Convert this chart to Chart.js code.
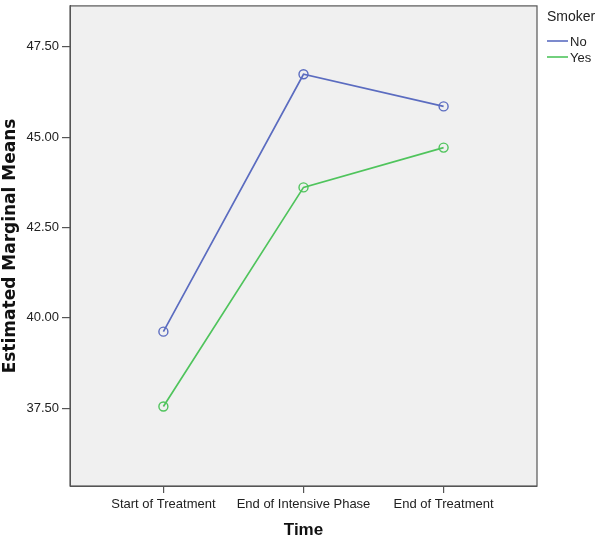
<!DOCTYPE html>
<html>
<head>
<meta charset="utf-8">
<script src="https://cdn.jsdelivr.net/npm/chart.js@4"></script>
<style>
  html, body { margin: 0; padding: 0; background: #fff; }
  #wrap { width: 600px; height: 538px; position: relative; }
</style>
</head>
<body>
<div id="wrap"><canvas id="profilePlot"></canvas></div>
<script>
const categories = ['Start of Treatment', 'End of Intensive Phase', 'End of Treatment']
const seriesNames = ['No', 'Yes']
const noValues = [39.62, 46.74, 45.85]
const yesValues = [37.55, 43.61, 44.71]
const yTicks = [37.5, 40.0, 42.5, 45.0, 47.5]

const colors = ['#5b6cc0', '#4fc45c']
const font = "'Liberation Sans', Arial, sans-serif"

const toPoints = (vals) => vals.map((v, i) => ({ x: i, y: v }))

// grey plot background + dark frame
const plotFrame = {
  id: 'plotFrame',
  beforeDraw(chart) {
    const { ctx, chartArea: a } = chart
    ctx.save()
    ctx.fillStyle = '#f0f0f0'
    ctx.fillRect(a.left, a.top, a.right - a.left, a.bottom - a.top)
    ctx.restore()
  },
  afterDraw(chart) {
    const { ctx, chartArea: a } = chart
    ctx.save()
    ctx.strokeStyle = '#555'
    ctx.lineWidth = 1.2
    ctx.strokeRect(a.left, a.top, a.right - a.left, a.bottom - a.top)
    ctx.restore()
  },
}

// SPSS style legend on the right
const sideLegend = {
  id: 'sideLegend',
  afterDraw(chart) {
    const { ctx } = chart
    ctx.save()
    ctx.fillStyle = '#222'
    ctx.textBaseline = 'middle'
    ctx.font = '14px ' + font
    ctx.fillText('Smoker', 547, 17)
    ctx.font = '13px ' + font
    chart.data.datasets.forEach((ds, i) => {
      const y = 41 + i * 16
      ctx.strokeStyle = ds.borderColor
      ctx.lineWidth = 1.6
      ctx.beginPath()
      ctx.moveTo(547, y)
      ctx.lineTo(568, y)
      ctx.stroke()
      ctx.fillText(ds.label, 570, y + 1)
    })
    ctx.restore()
  },
}

new Chart('profilePlot', {
  type: 'line',
  data: {
    datasets: [
      {
        label: seriesNames[0],
        data: toPoints(noValues),
        borderColor: colors[0],
        backgroundColor: 'rgba(0,0,0,0)',
        borderWidth: 1.7,
        pointRadius: 4.5,
        pointBorderWidth: 1.4,
        pointBackgroundColor: 'rgba(0,0,0,0)',
        tension: 0,
      },
      {
        label: seriesNames[1],
        data: toPoints(yesValues),
        borderColor: colors[1],
        backgroundColor: 'rgba(0,0,0,0)',
        borderWidth: 1.7,
        pointRadius: 4.5,
        pointBorderWidth: 1.4,
        pointBackgroundColor: 'rgba(0,0,0,0)',
        tension: 0,
      },
    ],
  },
  options: {
    responsive: true,
    maintainAspectRatio: false,
    animation: false,
    layout: { padding: { top: -3, right: 63, left: 0, bottom: 0 } },
    plugins: {
      legend: { display: false },
      tooltip: { enabled: false },
    },
    scales: {
      x: {
        type: 'linear',
        min: -2 / 3,
        max: 8 / 3,
        afterBuildTicks: (scale) => {
          scale.ticks = categories.map((c, i) => ({ value: i }))
        },
        afterFit: (scale) => {
          scale.height = 52
          scale.paddingLeft = 0
          scale.paddingRight = 0
        },
        ticks: {
          callback: (v) => categories[v],
          color: '#222',
          font: { family: font, size: 13 },
          padding: 4,
          maxRotation: 0,
          autoSkip: false,
        },
        grid: { drawOnChartArea: false, drawTicks: true, tickLength: 7, color: '#555', lineWidth: 1.2 },
        border: { display: true, color: '#555' },
        title: {
          display: true,
          text: 'Time',
          color: '#111',
          font: { family: font, size: 17, weight: 'bold' },
          padding: { top: 0, bottom: -3 },
        },
      },
      y: {
        min: 35.35,
        max: 48.63,
        afterBuildTicks: (scale) => {
          scale.ticks = yTicks.map((v) => ({ value: v }))
        },
        afterFit: (scale) => {
          scale.width = 70
          scale.paddingTop = 0
          scale.paddingBottom = 0
        },
        ticks: {
          callback: (v) => Number(v).toFixed(2),
          color: '#222',
          font: { family: font, size: 13 },
          padding: 3,
        },
        grid: { drawOnChartArea: false, drawTicks: true, tickLength: 8, color: '#555', lineWidth: 1.2 },
        border: { display: true, color: '#555' },
        title: {
          display: true,
          text: 'Estimated Marginal Means',
          color: '#111',
          font: { family: "'DejaVu Sans', sans-serif", size: 17, weight: 'bold' },
          padding: { top: 0, bottom: 0 },
        },
      },
    },
  },
  plugins: [plotFrame, sideLegend],
})
</script>
</body>
</html>
